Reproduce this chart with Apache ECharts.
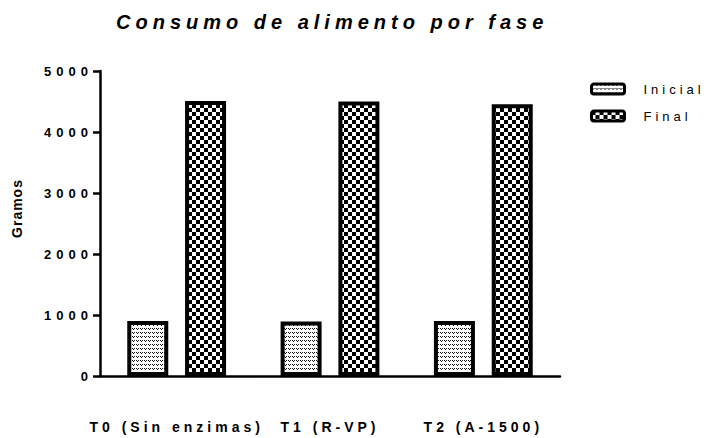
<!DOCTYPE html>
<html>
<head>
<meta charset="utf-8">
<title>Consumo de alimento por fase</title>
<script src="https://cdn.jsdelivr.net/npm/echarts@6/dist/echarts.min.js"></script>
<style>
  html, body { margin: 0; padding: 0; background: #fff; }
  #chart { width: 709px; height: 438px; }
  #chart text { letter-spacing: 5px; }
</style>
</head>
<body>
<div id="chart"></div>
<script>
// datos
var categorias = ['T0 (Sin enzimas)', 'T1 (R-VP)', 'T2 (A-1500)'];
var inicial = [900, 895, 900];
var final = [4510, 4500, 4455];
var ticksY = [0, 1000, 2000, 3000, 4000, 5000];

// tramas de relleno (puntos y damero)
function tramaPuntos() {
  var c = document.createElement('canvas');
  c.width = 4; c.height = 4;
  var ctx = c.getContext('2d');
  ctx.fillStyle = '#fff';
  ctx.fillRect(0, 0, 4, 4);
  ctx.fillStyle = '#111';
  ctx.fillRect(0, 0, 1, 1);
  ctx.fillRect(2, 0, 1, 1);
  ctx.fillRect(1, 1, 1, 1);
  return { image: c, repeat: 'repeat', imageWidth: 4, imageHeight: 4 };
}
function tramaDamero() {
  var c = document.createElement('canvas');
  c.width = 8; c.height = 8;
  var ctx = c.getContext('2d');
  ctx.fillStyle = '#fff';
  ctx.fillRect(0, 0, 8, 8);
  ctx.fillStyle = '#000';
  ctx.fillRect(0, 0, 4, 4);
  ctx.fillRect(4, 4, 4, 4);
  return { image: c, repeat: 'repeat', imageWidth: 8, imageHeight: 8 };
}

var fuente = 'Arial, "Liberation Sans", sans-serif';
var chart = echarts.init(document.getElementById('chart'), null, { renderer: 'svg' });

// espaciado de letras distinto para algunos textos
var espaciado = { 'Gramos': '1px', 'Inicial': '4px', 'Final': '4px' };
categorias.forEach(function (c) { espaciado[c] = '4px'; });
function ajustarEspaciado() {
  document.querySelectorAll('#chart text').forEach(function (t) {
    var s = espaciado[t.textContent];
    if (s && t.style.letterSpacing !== s) t.style.letterSpacing = s;
  });
}
new MutationObserver(ajustarEspaciado).observe(document.getElementById('chart'), { childList: true, subtree: true, attributes: true });
chart.on('finished', ajustarEspaciado);

chart.setOption({
  animation: false,
  title: {
    text: 'Consumo de alimento por fase',
    left: 116,
    top: 12,
    padding: 0,
    textStyle: { fontFamily: fuente, fontSize: 20, fontWeight: 'bold', fontStyle: 'italic', color: '#000' }
  },
  legend: {
    orient: 'vertical',
    left: 590,
    top: 82,
    padding: 0,
    itemWidth: 33,
    itemHeight: 10,
    itemGap: 13,
    itemStyle: { borderWidth: 3, borderColor: '#000' },
    textStyle: { fontFamily: fuente, fontSize: 13, color: '#000', lineHeight: 14, padding: [0, 0, 0, 14] },
    data: ['Inicial', 'Final']
  },
  grid: { left: 100, right: 149, top: 71, bottom: 62, outerBoundsMode: 'none' },
  xAxis: {
    type: 'category',
    data: categorias,
    axisLine: { lineStyle: { color: '#000', width: 2.5 } },
    axisTick: { alignWithLabel: true, length: 7, lineStyle: { color: '#000', width: 2.5 } },
    axisLabel: { interval: 0, margin: 44, fontFamily: fuente, fontSize: 14, fontWeight: 'bold', color: '#000' }
  },
  yAxis: {
    type: 'value',
    min: ticksY[0],
    max: ticksY[ticksY.length - 1],
    interval: 1000,
    name: 'Gramos',
    nameLocation: 'middle',
    nameGap: 76,
    nameTextStyle: { fontFamily: fuente, fontSize: 14, fontWeight: 'bold', color: '#000', padding: [0, 0, 0, 30] },
    splitLine: { show: false },
    axisLine: { show: true, lineStyle: { color: '#000', width: 2.5 } },
    axisTick: { show: true, length: 7, lineStyle: { color: '#000', width: 2.5 } },
    axisLabel: {
      margin: 7, fontFamily: fuente, fontSize: 13, fontWeight: 'bold', color: '#000',
      formatter: function (v) { return String(v); }
    }
  },
  series: [
    {
      name: 'Inicial',
      type: 'bar',
      data: inicial,
      barWidth: 41,
      barGap: '41%',
      itemStyle: { color: tramaPuntos(), borderColor: '#000', borderWidth: 4 }
    },
    {
      name: 'Final',
      type: 'bar',
      data: final,
      barWidth: 41,
      itemStyle: { color: tramaDamero(), borderColor: '#000', borderWidth: 4 }
    }
  ]
});
ajustarEspaciado();
</script>
</body>
</html>
